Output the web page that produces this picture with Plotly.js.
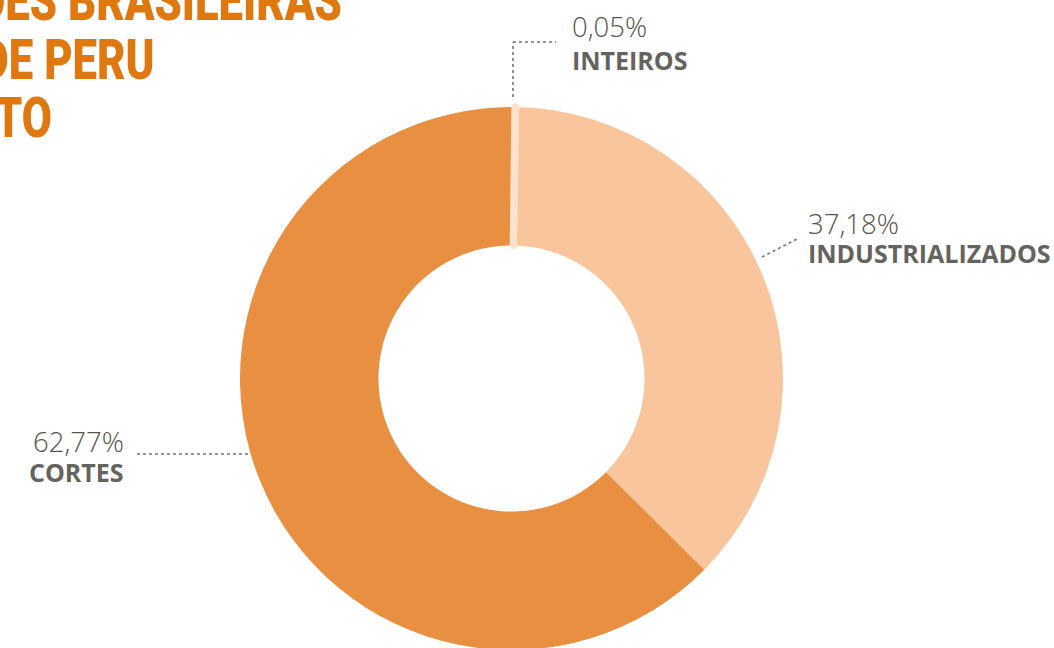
<!DOCTYPE html>
<html>
<head>
<meta charset="utf-8">
<script src="https://cdn.plot.ly/plotly-3.0.1.min.js"></script>
<style>
  html, body { margin: 0; padding: 0; background: #ffffff; overflow: hidden; }
  #chart { width: 1054px; height: 650px; }
  .title-squeeze text.annotation-text {
    transform-box: fill-box;
    transform-origin: right center;
    transform: scaleX(0.78);
  }
</style>
</head>
<body>
<div id="chart"></div>
<script>
// ---- data ----
const categories = ['INDUSTRIALIZADOS', 'CORTES', 'INTEIROS'];
const shares = [37.18, 62.77, 0.05];
const shareLabels = ['37,18%', '62,77%', '0,05%'];
const sliceColors = ['#F8C59C', '#E88F41', '#FDE3CE'];
const titleLines = ['EXPORTAÇÕES BRASILEIRAS', 'DE CARNE DE PERU', 'POR PRODUTO'];

// ---- layout helpers ----
const W = 1054, H = 650;
const px = x => x / W;
const py = y => 1 - y / H;

const grey = '#64635D';
const labelPos = [
  { x: 806, anchor: 'left',  yPct: 224, yName: 253 },
  { x: 126, anchor: 'right', yPct: 441, yName: 472 },
  { x: 570, anchor: 'left',  yPct: 27,  yName: 60 }
];

const annotations = [];
categories.forEach((c, i) => {
  const p = labelPos[i];
  annotations.push({
    xref: 'paper', yref: 'paper', x: px(p.x), y: py(p.yPct),
    xanchor: p.anchor, yanchor: 'middle', showarrow: false,
    text: shareLabels[i],
    font: { family: 'Open Sans', size: 27.5, color: '#55544E', weight: 300 }
  });
  annotations.push({
    xref: 'paper', yref: 'paper', x: px(p.x), y: py(p.yName),
    xanchor: p.anchor, yanchor: 'middle', showarrow: false,
    text: '<b>' + c + '</b>',
    font: { family: 'Open Sans', size: 25, color: grey }
  });
});

const titlePos = [ { r: 344, y: 1 }, { r: 157, y: 60 }, { r: 54, y: 118 } ];
titleLines.forEach((t, i) => {
  annotations.push({
    xref: 'paper', yref: 'paper', x: px(titlePos[i].r), y: py(titlePos[i].y),
    xanchor: 'right', yanchor: 'middle', showarrow: false,
    text: t,
    font: { family: 'Roboto', size: 56, color: '#E07810', weight: 900 }
  });
});

const dot = { color: '#76756f', width: 1.6, dash: 'dot' };
const shapes = [
  { type: 'line', xref: 'paper', yref: 'paper', x0: px(513), y0: py(97), x1: px(513), y1: py(42), line: dot },
  { type: 'line', xref: 'paper', yref: 'paper', x0: px(513), y0: py(42), x1: px(556), y1: py(42), line: dot },
  { type: 'line', xref: 'paper', yref: 'paper', x0: px(762), y0: py(257), x1: px(799), y1: py(238), line: dot },
  { type: 'line', xref: 'paper', yref: 'paper', x0: px(137), y0: py(454), x1: px(250), y1: py(454), line: dot }
];

const trace = {
  type: 'pie',
  labels: categories,
  values: shares,
  sort: false,
  direction: 'clockwise',
  rotation: 0.9,
  hole: 0.49,
  textinfo: 'none',
  hoverinfo: 'none',
  showlegend: false,
  domain: { x: [px(240), px(783)], y: [0, 543 / H] },
  marker: {
    colors: sliceColors,
    line: { color: sliceColors, width: [0, 0, 7] }
  }
};

Plotly.newPlot('chart', [trace], {
  width: W, height: H,
  margin: { l: 0, r: 0, t: 0, b: 0 },
  paper_bgcolor: '#ffffff',
  plot_bgcolor: '#ffffff',
  annotations: annotations,
  shapes: shapes
}, { displayModeBar: false, staticPlot: true }).then(gd => {
  const n = categories.length * 2;
  gd.querySelectorAll('g.annotation').forEach(g => {
    const idx = +g.getAttribute('data-index');
    if (idx >= n) g.classList.add('title-squeeze');
  });
});
</script>
</body>
</html>
